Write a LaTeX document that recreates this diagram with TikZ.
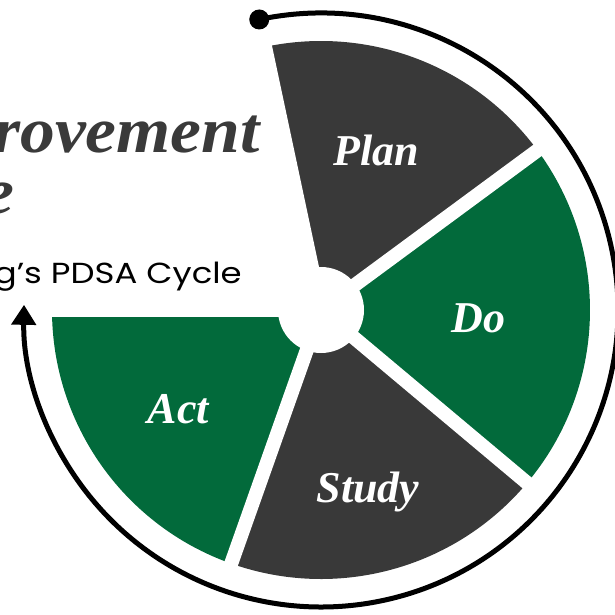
\documentclass[tikz,border=0pt]{standalone}
\usepackage{fontspec}
\setmainfont{Liberation Serif}
\newfontfamily\gothic{Poppins}
\usetikzlibrary{arrows.meta}
\definecolor{pdsagreen}{HTML}{026A3B}
\definecolor{pdsagrey}{HTML}{393939}
\definecolor{titlegrey}{HTML}{3A3A3A}
\pgfdeclarelayer{nodelayer}
\pgfdeclarelayer{edgelayer}
\pgfsetlayers{edgelayer,main,nodelayer}
\tikzstyle{phase}=[text=white, inner sep=0pt, anchor=base, font=\bfseries\itshape\fontsize{44}{44}\selectfont]
\tikzstyle{title}=[text=titlegrey, inner sep=0pt, anchor=base east, xscale=1.07, font=\bfseries\itshape\fontsize{65}{65}\selectfont]
\tikzstyle{subtitle}=[text=black, inner sep=0pt, anchor=base east, xscale=1.17, font=\gothic\fontsize{29}{29}\selectfont]
\tikzstyle{gap}=[white, line width=14pt]
\tikzstyle{cycle arrow}=[line width=5pt, -{Triangle[length=20pt,width=24pt]}]

\begin{document}
\begin{tikzpicture}[x=1pt, y=1pt]
	\useasboundingbox (-321,-304) rectangle (294,310);
	\clip (-321,-304) rectangle (294,310);
	\begin{pgfonlayer}{edgelayer}
		% wheel
		\fill [pdsagrey] (0,0) -- (102:269) arc [start angle=102, end angle=36.4, radius=269] -- cycle;
		\fill [pdsagreen] (0,0) -- (36.4:269) arc [start angle=36.4, end angle=-40, radius=269] -- cycle;
		\fill [pdsagrey] (0,0) -- (-40:269) arc [start angle=-40, end angle=-109.5, radius=269] -- cycle;
		\fill [pdsagreen] (0,0) -- (-109.5:269) arc [start angle=-109.5, end angle=-180, radius=269] -- cycle;
		\foreach \a in {102,36.4,-40,-109.5,180}
			\draw [style=gap] (0,0) -- (\a:280);
		\fill [white] (0,0) circle (43);
	\end{pgfonlayer}
	\begin{pgfonlayer}{nodelayer}
		\node [style=phase] (0) at (55,145) {Plan};
		\node [style=phase] (1) at (157.5,-22) {Do};
		\node [style=phase] (2) at (47,-192) {Study};
		\node [style=phase] (3) at (-142.5,-113) {Act};
		\node [style=title] (4) at (-61,158) {rovement};
		\node [style=title] (5) at (-306,97) {e};
		\node [style=subtitle] (6) at (-79,27) {g’s PDSA Cycle};
		\coordinate (7) at (102:297);
		\fill (7) circle (10);
		\draw [style=cycle arrow] (7) arc [start angle=102, end angle=-181, radius=297];
	\end{pgfonlayer}
\end{tikzpicture}
\end{document}
